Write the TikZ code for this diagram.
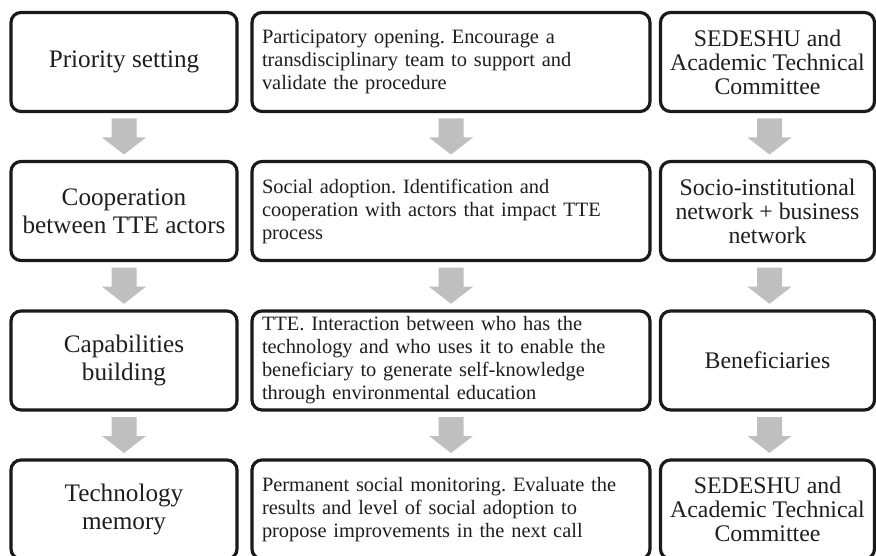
\documentclass[tikz,border=0pt]{standalone}
\usepackage{fontspec}
\setmainfont{Liberation Serif}
\usetikzlibrary{calc}
\definecolor{edge}{HTML}{1A1A1A}
\definecolor{arrowgray}{HTML}{BFBFBF}
\definecolor{ink}{HTML}{1E1E1E}
\frenchspacing
\begin{document}
\begin{tikzpicture}[x=1pt,y=-1pt,
  card/.style={draw=edge, line width=3.2pt, rounded corners=10pt,
    minimum height=99pt, inner sep=0pt, text=ink, fill=white},
  stage/.style={card, minimum width=226pt, align=center,
    font=\fontsize{25.2}{28}\selectfont},
  activity/.style={card, minimum width=398pt, text width=378pt, align=left,
    font=\fontsize{20.4}{23}\selectfont},
  actor/.style={card, minimum width=214pt, align=center,
    font=\fontsize{23.8}{24}\selectfont},
  flow/.pic={\fill[arrowgray] (-12.5,-18) -- (12.5,-18) -- (12.5,1) -- (22,1)
    -- (0,18) -- (-22,1) -- (-12.5,1) -- cycle;}]
\useasboundingbox (0,0) rectangle (876,556);

% left column: stages
\node[stage] (s1) at (124,62)    {Priority setting};
\node[stage] (s2) at (124,211)   {Cooperation\\between TTE actors};
\node[stage] (s3) at (124,360.5) {Capabilities\\building};
\node[stage] (s4) at (124,509.5) {Technology\\memory};

% middle column: activities
\node[activity] (a1) at (451,62) {Participatory opening. Encourage a\\
  transdisciplinary team to support and\\validate the procedure};
\node[activity] (a2) at (451,211) {Social adoption. Identification and\\
  cooperation with actors that impact TTE\\process};
\node[activity] (a3) at (451,360.5) {TTE. Interaction between who has the\\
  technology and who uses it to enable the\\beneficiary to generate self-knowledge\\
  through environmental education};
\node[activity] (a4) at (451,509.5) {Permanent social monitoring. Evaluate the\\
  results and level of social adoption to\\propose improvements in the next call};

% right column: actors
\node[actor] (c1) at (767.5,62)    {SEDESHU and\\Academic Technical\\Committee};
\node[actor] (c2) at (767.5,211)   {Socio-institutional\\network + business\\network};
\node[actor] (c3) at (767.5,360.5) {Beneficiaries};
\node[actor] (c4) at (767.5,509.5) {SEDESHU and\\Academic Technical\\Committee};

% block arrows between consecutive rows
\foreach \col/\dx in {s/0,a/0,c/2}{
  \foreach \i/\j in {1/2,2/3,3/4}{
    \pic[xshift=\dx pt] at ($(\col\i.south)!0.5!(\col\j.north)$) {flow};
  }
}
\end{tikzpicture}
\end{document}
